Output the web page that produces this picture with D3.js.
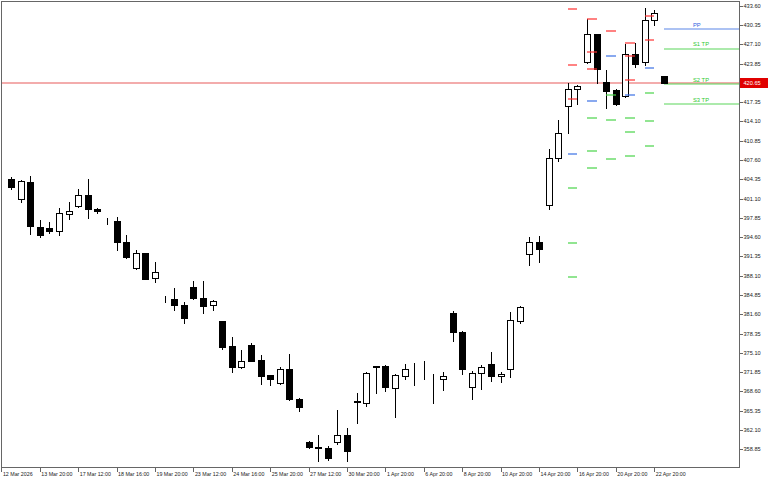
<!DOCTYPE html>
<html><head><meta charset="utf-8">
<script src="https://cdn.jsdelivr.net/npm/d3@7/dist/d3.min.js"></script>
<style>html,body{margin:0;padding:0;background:#fff;}svg{display:block;}</style>
</head><body>
<svg id="chart" width="768" height="480"></svg>
<script>
// ---- data (12H bars) ----
const opens  = [404.45,404.34,400.97,403.89,396.36,396.19,395.63,398.55,399.85,401.65,399.34,397.22,397.27,393.73,389.40,391.87,387.66,384.25,384.12,383.16,386.20,384.29,383.11,380.47,376.25,372.76,376.37,373.89,371.31,369.97,372.33,367.37,360.07,359.20,359.11,360.13,361.20,366.93,366.70,372.83,372.88,369.23,371.20,372.74,372.62,370.69,370.74,381.76,378.66,369.29,371.65,373.17,371.15,372.33,380.51,391.76,393.78,399.96,407.88,416.70,419.51,424.06,428.83,420.74,419.39,418.43,425.41,424.16,431.19,421.70];
const highs  = [404.60,404.73,404.18,404.90,397.49,397.10,399.56,400.57,402.66,404.40,399.56,397.87,398.04,395.01,392.51,391.95,390.41,384.73,385.98,383.72,387.21,387.26,384.00,380.55,377.72,375.58,376.81,374.74,371.40,372.66,374.85,367.45,360.24,361.20,359.45,365.47,362.48,368.28,371.85,372.90,373.05,371.53,373.17,373.44,373.72,371.48,371.92,382.15,378.83,372.04,373.05,375.24,371.87,381.93,382.99,394.57,394.79,409.50,414.29,420.62,420.24,431.36,428.90,422.76,419.56,427.10,427.26,433.16,432.88,421.75];
const lows   = [404.30,402.71,400.47,395.13,394.57,395.35,394.91,397.71,399.75,397.82,398.62,396.76,392.43,391.10,389.30,387.55,387.12,383.62,382.32,380.18,384.25,381.76,382.32,375.80,371.92,372.49,373.70,369.80,369.68,369.90,367.15,365.35,359.01,356.87,357.00,359.69,356.80,363.23,366.14,368.28,368.75,364.24,370.64,369.63,370.74,366.65,368.84,377.10,371.53,367.27,368.96,370.30,370.14,371.08,380.18,389.85,390.41,399.29,407.38,412.10,417.03,423.89,420.62,416.31,416.87,418.16,423.32,423.61,430.35,420.60];
const closes = [404.40,403.10,404.01,396.47,394.91,395.68,398.62,399.05,401.65,399.34,398.95,397.18,393.73,391.25,392.01,387.63,388.67,384.10,383.16,380.92,384.34,382.99,383.92,376.13,372.76,373.72,373.78,371.20,370.64,372.43,367.37,366.02,359.18,359.15,357.33,361.20,358.56,366.90,371.75,372.78,369.29,371.31,372.33,372.70,372.60,370.65,371.15,378.61,372.33,371.65,372.66,371.15,371.48,380.63,382.77,393.78,392.55,407.88,412.20,419.51,420.07,428.83,422.88,419.28,416.98,425.41,423.78,431.19,432.42,420.65];

const timeTickIndex  = [0,4,8,12,16,20,24,28,32,36,40,44,48,52,56,60,64,68];
const timeTickLabels = ["12 Mar 2026","13 Mar 20:00","17 Mar 12:00","18 Mar 16:00","19 Mar 20:00","23 Mar 12:00","24 Mar 16:00","25 Mar 20:00","27 Mar 12:00","30 Mar 20:00","1 Apr 20:00","6 Apr 20:00","8 Apr 20:00","10 Apr 20:00","14 Apr 20:00","16 Apr 20:00","20 Apr 20:00","22 Apr 20:00"];
const priceTicks = [358.85,362.10,365.35,368.60,371.85,375.10,378.35,381.60,384.85,388.10,391.35,394.60,397.85,401.10,404.35,407.60,410.85,414.10,417.35,420.60,423.85,427.10,430.35,433.60];

// daily pivot levels (bar index where each day starts)
const pivotStart = [59,61,63,65,67];
const pivR3 = [432.99,431.31,440.22,427.36,436.84];
const pivR2 = [423.61,425.85,435.91,425.12,431.91];
const pivR1 = [417.93,422.88,429.39,421.08,427.82];
const pivPP = [408.56,417.59,425.07,418.60,423.05];
const pivS1 = [402.88,414.62,418.55,414.62,418.84];
const pivS2 = [393.56,409.16,414.42,412.27,414.12];
const pivS3 = [387.83,406.20,407.72,408.22,410.01];

// current day levels
const curStart  = 69;
const curNames  = ["PP","S1 TP","S2 TP","S3 TP"];
const curLevels = [429.67,426.35,420.35,416.98];
const lastPrice = 420.65;

// ---- drawing ----
const L = 1, T = 1, R = 739, B = 467;
const svg = d3.select("#chart");
const x = d3.scaleLinear().domain([0, 69]).range([1.4, 663.8]);
const y = d3.scaleLinear().domain([358.85, 433.60]).range([449.3, 5.7]);
const px = v => Math.round(v) + 0.5;

svg.append("defs").append("clipPath").attr("id","clip")
  .append("rect").attr("x", L + 1).attr("y", T + 1).attr("width", R - L - 1).attr("height", B - T - 1);

const plot = svg.append("g").attr("clip-path","url(#clip)");

// last price line
plot.append("line").attr("x1", L).attr("x2", R)
  .attr("y1", Math.round(y(lastPrice))).attr("y2", Math.round(y(lastPrice)))
  .attr("stroke", "#e85a5a").attr("stroke-width", 1.2);

// current-day level lines
const curColors = ["#5a86e8", "#5ad65a", "#5ad65a", "#5ad65a"];
curLevels.forEach((v, i) => {
  plot.append("line").attr("x1", Math.round(x(curStart))).attr("x2", R)
    .attr("y1", Math.round(y(v))).attr("y2", Math.round(y(v)))
    .attr("stroke", curColors[i]).attr("stroke-width", 1.2);
});

// candles
const idx = d3.range(opens.length);
const cg = plot.append("g").attr("shape-rendering","crispEdges");
cg.selectAll(".wick").data(idx).enter().append("line")
  .attr("x1", i => px(x(i))).attr("x2", i => px(x(i)))
  .attr("y1", i => Math.round(y(highs[i]))).attr("y2", i => Math.round(y(lows[i])) + 1)
  .attr("stroke", "#000").attr("stroke-width", 1);
cg.selectAll(".body").data(idx).enter().append("rect")
  .attr("x", i => Math.round(x(i)) - 3 + 0.5)
  .attr("width", 6)
  .attr("y", i => px(y(Math.max(opens[i], closes[i]))))
  .attr("height", i => Math.max(0, Math.round(y(Math.min(opens[i], closes[i]))) - Math.round(y(Math.max(opens[i], closes[i])))))
  .attr("fill", i => closes[i] >= opens[i] ? "#fff" : "#000")
  .attr("stroke", "#000").attr("stroke-width", 1);

// pivot dashes (on top of candles)
const redC = "#ff3030", blueC = "#3a70e4", greenC = "#48d448";
const dashSets = [
  [pivR3, redC],[pivR2, redC],[pivR1, redC],[pivPP, blueC],[pivS1, greenC],[pivS2, greenC],[pivS3, greenC]
];
dashSets.forEach(([arr, col]) => {
  plot.selectAll(null).data(pivotStart).enter().append("line")
    .attr("x1", d => Math.round(x(d)))
    .attr("x2", d => Math.round(x(d + 1)))
    .attr("y1", (d, i) => Math.round(y(arr[i])))
    .attr("y2", (d, i) => Math.round(y(arr[i])))
    .attr("stroke", col).attr("stroke-width", 1.2);
});

// level labels
const labelG = svg.append("g");
curLevels.forEach((v, i) => {
  labelG.append("text").attr("x", 693).attr("y", y(v) - 2.5)
    .attr("font-family", "'Liberation Sans', Arial, sans-serif").attr("font-size", 5.8)
    .attr("fill", i === 0 ? "#2f62e0" : "#2fc82f").text(curNames[i]);
});

// frame
svg.append("rect").attr("x", L + 0.5).attr("y", T + 0.5).attr("width", R - L).attr("height", B - T)
  .attr("fill", "none").attr("stroke", "#666").attr("stroke-width", 1).attr("shape-rendering","crispEdges");

// right price axis
const ax = svg.append("g").attr("font-family", "'Liberation Sans', Arial, sans-serif").attr("font-size", 5.6).attr("fill", "#222");
priceTicks.forEach(v => {
  ax.append("line").attr("x1", R + 0.5).attr("x2", R + 4).attr("y1", px(y(v))).attr("y2", px(y(v)))
    .attr("stroke", "#666").attr("shape-rendering","crispEdges");
  ax.append("text").attr("x", R + 4.5).attr("y", y(v)).attr("dy", "0.35em").text(v.toFixed(2));
});
// last price tag
const ly = y(lastPrice);
ax.append("rect").attr("x", R + 1).attr("y", Math.round(ly) - 5).attr("width", 28).attr("height", 10).attr("fill", "#e00000");
ax.append("text").attr("x", R + 4.5).attr("y", ly).attr("dy", "0.35em").attr("fill", "#fff").text(lastPrice.toFixed(2));

// bottom time axis
const bx = svg.append("g").attr("font-family", "'Liberation Sans', Arial, sans-serif").attr("font-size", 5.3).attr("fill", "#222");
timeTickIndex.forEach((ti, k) => {
  const tx = px(x(ti));
  bx.append("line").attr("x1", tx).attr("x2", tx).attr("y1", B + 0.5).attr("y2", B + 4.5)
    .attr("stroke", "#666").attr("shape-rendering","crispEdges");
  bx.append("text").attr("x", Math.max(2, x(ti) + 1.5)).attr("y", 475.5).text(timeTickLabels[k]);
});
</script>
</body></html>
